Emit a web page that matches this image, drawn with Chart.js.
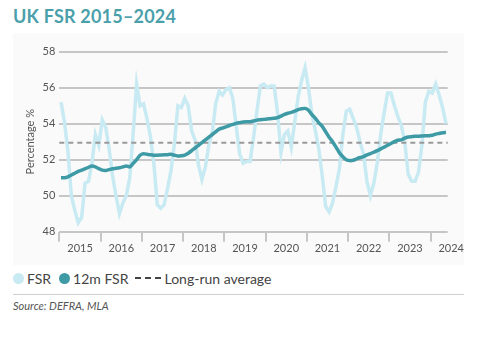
<!DOCTYPE html>
<html>
<head>
<meta charset="utf-8">
<script src="https://cdn.jsdelivr.net/npm/chart.js@4/dist/chart.umd.min.js"></script>
<style>
  body { margin: 0; width: 480px; height: 341px; background: #fff; font-family: Lato, "Open Sans", sans-serif; position: relative; overflow: hidden; }
  #title { position: absolute; left: 13px; top: 6px; font-size: 18px; font-weight: 700; color: #4b9fab; line-height: 21px; letter-spacing: 0.2px; }
  #panel { position: absolute; left: 13px; top: 33px; width: 451px; height: 232px; background: #fafafa; }
  #legend { position: absolute; left: 13px; top: 270px; height: 16px; display: flex; align-items: center; font-size: 14px; color: #444; }
  .dot { width: 11px; height: 11px; border-radius: 50%; display: inline-block; margin-right: 3px; }
  .dash { display: inline-block; width: 6px; height: 2px; background: #444; margin-right: 4px; }
  #rule { position: absolute; left: 13px; top: 294px; width: 451px; height: 1px; background: #cfcfcf; }
  #source { position: absolute; left: 13px; top: 299px; font-size: 11px; font-style: italic; color: #555; }
</style>
</head>
<body>
<div id="title">UK FSR 2015–2024</div>
<div id="panel"><canvas id="fsr-chart" width="451" height="232"></canvas></div>
<div id="legend">
  <span class="dot" style="background:#c8eaf2"></span><span style="margin-right:8px">FSR</span>
  <span class="dot" style="background:#3e9aa5"></span><span style="margin-right:7px">12m FSR</span>
  <span class="dash"></span><span class="dash"></span><span class="dash" style="margin-right:3px"></span><span>Long-run average</span>
</div>
<div id="rule"></div>
<div id="source">Source: DEFRA, MLA</div>

<script>
// Year tick labels and month names (monthly series Jan 2015 - May 2024)
const years = ['2015', '2016', '2017', '2018', '2019', '2020', '2021', '2022', '2023', '2024'];
const monthNames = ['Jan', 'Feb', 'Mar', 'Apr', 'May', 'Jun', 'Jul', 'Aug', 'Sep', 'Oct', 'Nov', 'Dec'];

// Monthly FSR, %
const fsr = [
    55.2, 54.1, 52.5, 50.0, 49.2, 48.5, 48.8, 50.7, 50.8, 51.8, 53.4, 52.8,
    54.2, 53.8, 52.6, 51.1, 50.0, 49.0, 49.6, 50.0, 51.0, 53.5, 56.2, 55.0,
    55.1, 54.3, 53.3, 51.8, 49.5, 49.3, 49.5, 50.4, 51.4, 52.9, 55.0, 54.9,
    55.4, 55.0, 53.6, 53.1, 51.7, 50.9, 51.6, 52.8, 53.5, 55.1, 55.8, 55.6,
    55.9, 56.0, 55.4, 53.8, 52.3, 51.8, 51.9, 51.9, 53.2, 54.7, 56.1, 56.2,
    56.0, 56.1, 56.1, 54.6, 52.4, 53.4, 53.6, 52.7, 54.1, 55.5, 56.4, 57.1,
    56.0, 54.5, 53.6, 52.6, 51.1, 49.4, 49.1, 49.6, 50.5, 51.5, 53.4, 54.7,
    54.8, 54.3, 53.8, 53.0, 52.3, 50.8, 50.0, 50.7, 51.8, 53.4, 54.6, 55.7,
    55.7, 55.0, 54.4, 53.9, 53.0, 51.2, 50.8, 50.8, 51.3, 52.8, 55.2, 55.8,
    55.7, 56.2, 55.6, 54.9, 54.0
];

// 12-month rolling FSR, %
const fsr12m = [
    51.00, 51.00, 51.05, 51.15, 51.25, 51.35, 51.42, 51.50, 51.58, 51.65, 51.60, 51.50,
    51.42, 51.40, 51.45, 51.50, 51.52, 51.55, 51.60, 51.65, 51.60, 51.80, 52.00, 52.25,
    52.33, 52.30, 52.27, 52.25, 52.25, 52.26, 52.27, 52.28, 52.30, 52.25, 52.20, 52.22,
    52.26, 52.36, 52.50, 52.65, 52.80, 52.95, 53.10, 53.25, 53.40, 53.55, 53.70, 53.76,
    53.82, 53.90, 53.96, 54.02, 54.06, 54.10, 54.11, 54.11, 54.15, 54.20, 54.22, 54.24,
    54.26, 54.28, 54.30, 54.34, 54.42, 54.52, 54.58, 54.63, 54.70, 54.78, 54.83, 54.85,
    54.75, 54.50, 54.30, 54.05, 53.85, 53.55, 53.25, 53.00, 52.70, 52.38, 52.17, 52.00,
    51.95, 51.97, 52.05, 52.12, 52.17, 52.27, 52.34, 52.42, 52.50, 52.60, 52.70, 52.80,
    52.90, 53.00, 53.08, 53.10, 53.20, 53.26, 53.28, 53.30, 53.30, 53.32, 53.33, 53.33,
    53.36, 53.42, 53.46, 53.50, 53.52
];

const longRunAverage = 52.94;

const labels = years.flatMap(y => monthNames.map(m => `${m} ${y}`)).slice(0, fsr.length);

const gridColor = '#c6c6c6';
const textColor = '#555';

// Dashed long-run average, drawn between the FSR and 12m FSR lines
const longRunLine = {
    id: 'longRunLine',
    afterDatasetDraw(chart, args) {
        if (args.index !== 1) return;
        const { ctx, chartArea, scales } = chart;
        const y = scales.y.getPixelForValue(longRunAverage);
        ctx.save();
        ctx.strokeStyle = '#999';
        ctx.lineWidth = 2;
        ctx.setLineDash([5, 4]);
        ctx.beginPath();
        ctx.moveTo(chartArea.left, y);
        ctx.lineTo(chartArea.right, y);
        ctx.stroke();
        ctx.restore();
    }
};

new Chart(document.getElementById('fsr-chart').getContext('2d'), {
    type: 'line',
    data: {
        labels: labels,
        datasets: [{
            label: '12m FSR',
            data: fsr12m,
            borderColor: '#3e9aa5',
            borderWidth: 3.5,
            pointRadius: 0,
            tension: 0.2
        }, {
            label: 'FSR',
            data: fsr,
            borderColor: '#c8eaf2',
            borderWidth: 3.5,
            pointRadius: 0,
            tension: 0
        }]
    },
    options: {
        responsive: false,
        animation: false,
        layout: {
            padding: { top: 18.7, right: 16.3, bottom: 0, left: 0 }
        },
        plugins: {
            legend: { display: false },
            tooltip: { enabled: false }
        },
        scales: {
            x: {
                offset: true,
                afterFit: scale => { scale.height = 33.3; },
                border: { display: false },
                grid: {
                    offset: true,
                    drawOnChartArea: false,
                    drawTicks: true,
                    tickLength: 10,
                    lineWidth: 2,
                    tickColor: ctx => (ctx.index !== undefined && ctx.index % 12 === 0) ? gridColor : 'transparent'
                },
                ticks: {
                    autoSkip: false,
                    maxRotation: 0,
                    minRotation: 0,
                    padding: 0,
                    labelOffset: 19,
                    color: textColor,
                    font: { family: 'Lato', size: 11 },
                    callback: (value, index) => index % 12 === 0 ? years[index / 12] : ''
                }
            },
            y: {
                min: 48,
                max: 58,
                afterFit: scale => { scale.width = 46.3; },
                border: { display: false },
                grid: {
                    color: gridColor,
                    lineWidth: 2,
                    drawTicks: false
                },
                ticks: {
                    stepSize: 2,
                    padding: 4,
                    color: textColor,
                    font: { family: 'Lato', size: 11 }
                },
                title: {
                    display: true,
                    text: 'Percentage %',
                    color: textColor,
                    font: { family: 'Lato', size: 11 },
                    padding: { top: 11, bottom: 0 }
                }
            }
        }
    },
    plugins: [longRunLine]
});
</script>
</body>
</html>
